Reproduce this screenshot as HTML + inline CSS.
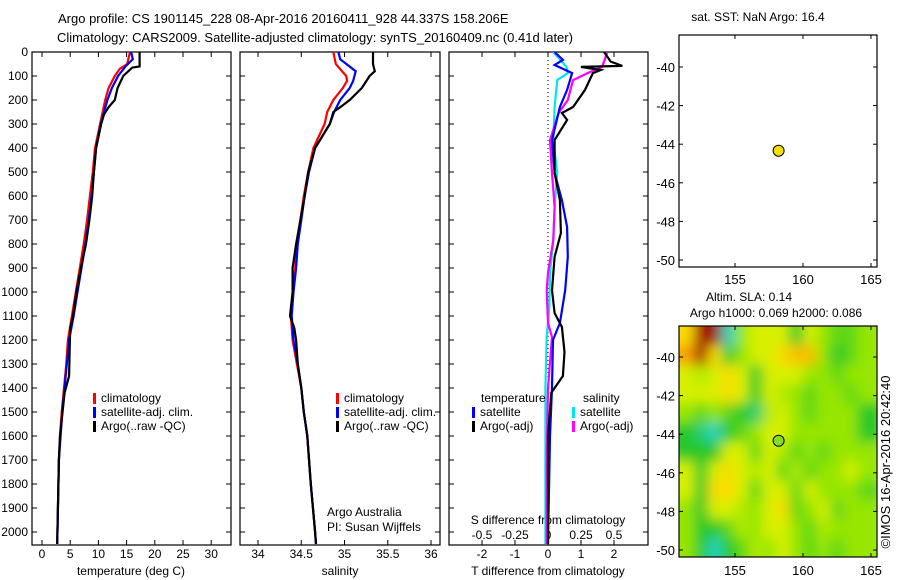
<!DOCTYPE html>
<html><head><meta charset="utf-8"><style>
body{margin:0;background:#fff}
svg{display:block;font-family:"Liberation Sans",sans-serif;font-size:12px}
</style></head><body>
<svg id="s" width="900" height="580" viewBox="0 0 900 580" xmlns="http://www.w3.org/2000/svg">
<defs>
<clipPath id="c1"><rect x="32" y="52" width="199" height="493"/></clipPath>
<clipPath id="c2"><rect x="240" y="52" width="200" height="493"/></clipPath>
<clipPath id="c3"><rect x="449" y="52" width="199" height="493"/></clipPath>
<clipPath id="cm"><rect x="679" y="326" width="198" height="231"/></clipPath>
<filter id="bl" x="-10%" y="-10%" width="120%" height="120%"><feGaussianBlur stdDeviation="6.5"/></filter>
</defs>
<text x="58" y="23" font-size="13">Argo profile: CS 1901145_228 08-Apr-2016 20160411_928 44.337S 158.206E</text>
<text x="57" y="42" font-size="13">Climatology: CARS2009. Satellite-adjusted climatology: synTS_20160409.nc (0.41d later)</text>
<g id="g"></g>
</svg>
<script>
// ---- data ----
const depthTicks=[0,100,200,300,400,500,600,700,800,900,1000,1100,1200,1300,1400,1500,1600,1700,1800,1900,2000];
const tempTicks=[0,5,10,15,20,25,30];
const salTicks=[34,34.5,35,35.5,36];
const salTickLabels=["34","34.5","35","35.5","36"];
const tdTicks=[-2,-1,0,1,2];
const sdTicks=[-0.5,-0.25,0,0.25,0.5];
const sdTickLabels=["-0.5","-0.25","0","0.25","0.5"];

const climTempD=[0,50,70,100,150,200,300,400,500,600,700,800,900,1000,1100,1200,1300,1400,1500,1600,1700,2050];
const climTempV=[15.6,15.1,13.8,12.9,11.8,11.2,10.3,9.4,9.0,8.5,8.0,7.4,6.7,6.0,5.3,4.6,4.3,3.9,3.5,3.2,3.0,2.7];
const satTempD=[0,30,60,100,150,200,300,400,500,600,700,800,900,1000,1100,1200,1300,1400,1500,1600,1700,2050];
const satTempV=[15.8,16.1,14.8,13.5,12.4,11.6,10.4,9.6,9.2,8.8,8.3,7.7,7.0,6.3,5.6,4.8,4.4,4.0,3.6,3.3,3.0,2.7];
const argoTempD=[0,60,65,100,150,200,230,260,300,400,500,600,700,800,900,1000,1100,1150,1250,1350,1420,1600,1700,2050];
const argoTempV=[17.3,17.3,16.0,14.4,13.4,12.9,11.8,11.0,10.5,9.6,9.2,8.9,8.4,7.8,6.9,6.1,5.5,5.0,4.9,4.8,4.0,3.2,3.0,2.7];

const climSalD=[0,50,100,120,150,200,250,300,400,500,600,700,800,900,1000,1100,1200,1300,1400,1500,1600,1800,2000,2050];
const climSalV=[34.87,34.9,35.02,35.03,34.98,34.87,34.8,34.77,34.64,34.58,34.53,34.49,34.45,34.43,34.4,34.38,34.4,34.45,34.5,34.53,34.57,34.61,34.66,34.67];
const satSalD=[0,30,80,120,150,200,250,300,400,500,600,700,800,900,1000,1100,1200,1300,1400,1500,1600,1800,2000,2050];
const satSalV=[34.93,34.95,35.13,35.1,35.06,34.95,34.88,34.83,34.66,34.59,34.54,34.5,34.46,34.44,34.41,34.39,34.41,34.46,34.5,34.53,34.57,34.61,34.66,34.67];
const argoSalD=[0,50,80,100,150,200,230,250,300,400,500,600,700,800,900,1000,1100,1150,1200,1300,1400,1500,1600,1800,2000,2050];
const argoSalV=[35.33,35.33,35.35,35.29,35.2,35.06,34.95,34.87,34.83,34.66,34.58,34.54,34.49,34.44,34.4,34.4,34.37,34.42,34.44,34.46,34.5,34.53,34.57,34.61,34.66,34.67];

const satTdD=[0,33,54,88,158,229,367,504,617,729,854,992,1129,1200,1400,1600,2050];
const satTdV=[0.2,0.45,0.2,0.73,0.58,0.36,0.12,0.2,0.42,0.58,0.6,0.52,0.36,0.15,0.12,0.06,0.0];
const argoTdD=[0,40,58,62,75,88,158,229,254,283,367,504,617,754,854,992,1088,1146,1250,1350,1420,1600,2050];
const argoTdV=[1.7,1.9,2.25,1.0,1.6,1.36,1.12,0.76,0.42,0.58,0.2,0.2,0.36,0.39,0.2,0.12,0.2,0.42,0.5,0.45,0.1,0.0,0.0];
const satSdD=[0,62,88,117,229,367,504,646,783,921,1063,1188,1400,1600,2050];
const satSdV=[0.04,0.14,0.15,0.07,0.05,0.04,0.07,0.05,0.04,0.015,0.01,-0.01,-0.02,-0.02,-0.02];
const argoSdD=[0,62,88,117,158,200,254,367,504,646,783,921,992,1129,1188,1400,1700,2050];
const argoSdV=[0.45,0.41,0.3,0.19,0.17,0.15,0.08,0.015,0.03,0.05,0.04,0.0,-0.01,0.0,0.03,0.0,-0.01,-0.01];

const lonTicks=[155,160,165];
const latTicks=[-40,-42,-44,-46,-48,-50];
const argoLon=158.206, argoLat=-44.337;
const slaLon0=151, slaLat0=-38.4;
const slaGrid=[
[0.1,0.4,0.4,-0.2,0,0.05,0.05,0.05,-0.1,0.05,0,-0.05,-0.05,0],
[0.2,0.35,0.1,-0.1,0,0.05,0.05,0.1,0.15,0.15,0,-0.1,-0.05,0],
[0.05,0.02,0.05,0.1,0.05,-0.1,0.05,0.05,0.05,0,0,-0.05,0,0],
[0.05,0.05,0.05,0.1,0.05,-0.1,0.05,0.02,0,-0.05,0,0,-0.05,0],
[0,-0.05,0,-0.05,-0.1,-0.15,0.02,0.05,0,-0.05,0,0,0,-0.1],
[-0.1,-0.15,-0.2,-0.1,-0.05,0,0.05,0.05,0,0,0,0,0,-0.1],
[-0.1,-0.1,-0.1,0.05,0.05,-0.05,0.05,0.02,-0.05,0,-0.05,0,0,0],
[0.05,-0.1,0.05,0.1,0.05,0.02,0.05,-0.05,0.02,-0.05,0,0,0.05,0],
[0.05,-0.1,0.1,0.1,0.05,-0.05,0.05,0.05,-0.05,0.05,0,0,0,-0.05],
[0,-0.1,0.05,0.05,0.02,0,0.05,0.1,-0.05,0,0.05,-0.05,0,0],
[0,-0.1,-0.1,-0.05,0.02,0,0.05,0.05,0,-0.05,0.02,0,0,0],
[0,-0.1,-0.2,-0.1,-0.05,0.02,0,0.05,0,-0.05,0,-0.05,0,0]];

// ---- scales ----
const yD=d=>52+d*0.24;
const xT=t=>42+t*5.64;
const xS=s=>258+(s-34)*86.5;
const xTd=v=>548+v*33;
const xSd=v=>548+v*132;
const xLon=l=>735+(l-155)*13.6;
const yLat1=la=>67+(-40-la)*19.3;
const yLat2=la=>357+(-40-la)*19.3;

const NS="http://www.w3.org/2000/svg";
const G=document.getElementById('g');
function mk(tag,attrs,parent){const e=document.createElementNS(NS,tag);for(const k in attrs)e.setAttribute(k,attrs[k]);(parent||G).appendChild(e);return e;}
function txt(x,y,s,anchor,parent,size){const e=mk('text',{x:x,y:y,'text-anchor':anchor||'start'},parent);if(size)e.setAttribute('font-size',size);e.textContent=s;return e;}

function box(x,y,w,h,name){const r=mk('rect',{x:x,y:y,width:w,height:h,fill:'none',stroke:'#000','stroke-width':1.2});}

function profile(D,V,xf,color,clip,name){
  let p='';for(let i=0;i<D.length;i++){p+=(i?'L':'M')+xf(V[i]).toFixed(1)+' '+yD(D[i]).toFixed(1);}
  const e=mk('path',{d:p,fill:'none',stroke:color,'stroke-width':2.2,'clip-path':'url(#'+clip+')'});
  
  
}

// panels
const panels=[[32,199],[240,200],[449,199]];
panels.forEach((p,i)=>{
  box(p[0],52,p[1],493,'profile-panel-'+(i+1));
  depthTicks.forEach(d=>{mk('line',{x1:p[0],x2:p[0]+5,y1:yD(d),y2:yD(d),stroke:'#000'});mk('line',{x1:p[0]+p[1],x2:p[0]+p[1]-5,y1:yD(d),y2:yD(d),stroke:'#000'});});
});
depthTicks.forEach(d=>{const t=txt(28,yD(d)+4,String(d),'end');});

// temperature axis
tempTicks.forEach(t=>{const x=xT(t);mk('line',{x1:x,x2:x,y1:52,y2:57,stroke:'#000'});mk('line',{x1:x,x2:x,y1:545,y2:540,stroke:'#000'});
 const l=txt(x,558,String(t),'middle');});
let a=txt(131,575,'temperature (deg C)','middle');
salTicks.forEach((s,i)=>{const x=xS(s);mk('line',{x1:x,x2:x,y1:52,y2:57,stroke:'#000'});mk('line',{x1:x,x2:x,y1:545,y2:540,stroke:'#000'});
 const l=txt(x,558,salTickLabels[i],'middle');});
a=txt(340,575,'salinity','middle');
tdTicks.forEach(t=>{const x=xTd(t);mk('line',{x1:x,x2:x,y1:52,y2:57,stroke:'#000'});mk('line',{x1:x,x2:x,y1:545,y2:540,stroke:'#000'});
 const l=txt(x,558,String(t),'middle');});
sdTicks.forEach((t,i)=>{const l=txt(xSd(t),539,sdTickLabels[i],'middle');});
a=txt(548,575,'T difference from climatology','middle');
a=txt(548,524,'S difference from climatology','middle');
mk('line',{x1:xTd(0),x2:xTd(0),y1:52,y2:545,stroke:'#000','stroke-dasharray':'1,3'});

// profiles
profile(climTempD,climTempV,xT,'#ff0000','c1','clim-temp-line');
profile(satTempD,satTempV,xT,'#0000ff','c1','sat-temp-line');
profile(argoTempD,argoTempV,xT,'#000000','c1','argo-temp-line');
profile(climSalD,climSalV,xS,'#ff0000','c2','clim-sal-line');
profile(satSalD,satSalV,xS,'#0000ff','c2','sat-sal-line');
profile(argoSalD,argoSalV,xS,'#000000','c2','argo-sal-line');
profile(satSdD,satSdV,xSd,'#00e5ee','c3','sat-sdiff-line');
profile(argoSdD,argoSdV,xSd,'#ff00ff','c3','argo-sdiff-line');
profile(satTdD,satTdV,xTd,'#0000ff','c3','sat-tdiff-line');
profile(argoTdD,argoTdV,xTd,'#000000','c3','argo-tdiff-line');

// legends
function leg(x,y,color,label,name){mk('rect',{x:x,y:y-9,width:3,height:11,fill:color});const t=txt(x+8,y,label);}
[[93],[336]].forEach((p,i)=>{const x=p[0];leg(x,402,'#ff0000','climatology','legend-climatology');leg(x,416,'#0000ff','satellite-adj. clim.','legend-satellite');leg(x,430,'#000000','Argo(..raw -QC)','legend-argo');});
a=txt(481,402,'temperature');
a=txt(583,402,'salinity');
leg(472,416,'#0000ff','satellite','legend-t-satellite');leg(472,430,'#000000','Argo(-adj)','legend-t-argo');
leg(572,416,'#00e5ee','satellite','legend-s-satellite');leg(572,430,'#ff00ff','Argo(-adj)','legend-s-argo');
a=txt(327,516,'Argo Australia');
a=txt(327,531,'PI: Susan Wijffels');

// map 1 (SST)
a=txt(758,21,'sat. SST: NaN Argo: 16.4','middle');
// map 2 (SLA) heatmap
function slaColor(v){const stops=[[-0.2,[40,210,190]],[-0.1,[40,200,40]],[0,[150,230,0]],[0.05,[215,240,0]],[0.1,[250,220,0]],[0.2,[250,160,0]],[0.35,[160,10,0]]];
 if(v<=stops[0][0])return 'rgb('+stops[0][1]+')';
 for(let i=1;i<stops.length;i++){if(v<=stops[i][0]){const f=(v-stops[i-1][0])/(stops[i][0]-stops[i-1][0]);const c=stops[i-1][1].map((c0,k)=>Math.round(c0+(stops[i][1][k]-c0)*f));return 'rgb('+c+')';}}
 return 'rgb('+stops[stops.length-1][1]+')';}
const hg=mk('g',{'clip-path':'url(#cm)'});
const hb=mk('g',{filter:'url(#bl)'},hg);
mk('rect',{x:670,y:316,width:215,height:250,fill:'#a8e000'},hb);
slaGrid.forEach((row,r)=>row.forEach((v,c)=>{
  let x0=xLon(slaLon0+c),x1=xLon(slaLon0+c+1),y0=yLat2(slaLat0-r),y1=yLat2(slaLat0-r-1);
  if(c===0)x0-=12; if(c===row.length-1)x1+=12; if(r===0)y0-=12; if(r===slaGrid.length-1)y1+=12;
  const e=mk('rect',{x:x0,y:y0,width:x1-x0+0.5,height:y1-y0+0.5,fill:slaColor(v)},hb);
  
  
}));
a=txt(749,301,'Altim. SLA: 0.14','middle');
a=txt(776,317,'Argo h1000: 0.069 h2000: 0.086','middle');

[[35,232,yLat1,'sst-map',284],[326,231,yLat2,'sla-map',575]].forEach(m=>{
  box(679,m[0],198,m[1],m[3]+'-frame');
  lonTicks.forEach(l=>{const x=xLon(l);mk('line',{x1:x,x2:x,y1:m[0],y2:m[0]+4,stroke:'#000'});mk('line',{x1:x,x2:x,y1:m[0]+m[1],y2:m[0]+m[1]-4,stroke:'#000'});
    const t=txt(x,m[4],String(l),'middle',null,13);});
  latTicks.forEach(la=>{const y=m[2](la);mk('line',{x1:679,x2:683,y1:y,y2:y,stroke:'#000'});mk('line',{x1:877,x2:873,y1:y,y2:y,stroke:'#000'});
    const t=txt(675,y+5,String(la),'end',null,13);});
  const d=mk('circle',{cx:xLon(argoLon),cy:m[2](argoLat),r:5.5,fill:m[3]==='sst-map'?'#f2e000':'#88dd22',stroke:'#000','stroke-width':1});
  
  
});
a=txt(0,0,'©IMOS 16-Apr-2016 20:42:40','middle',null,13);a.setAttribute('transform','translate(890,462) rotate(-90)');
</script>
</body></html>
